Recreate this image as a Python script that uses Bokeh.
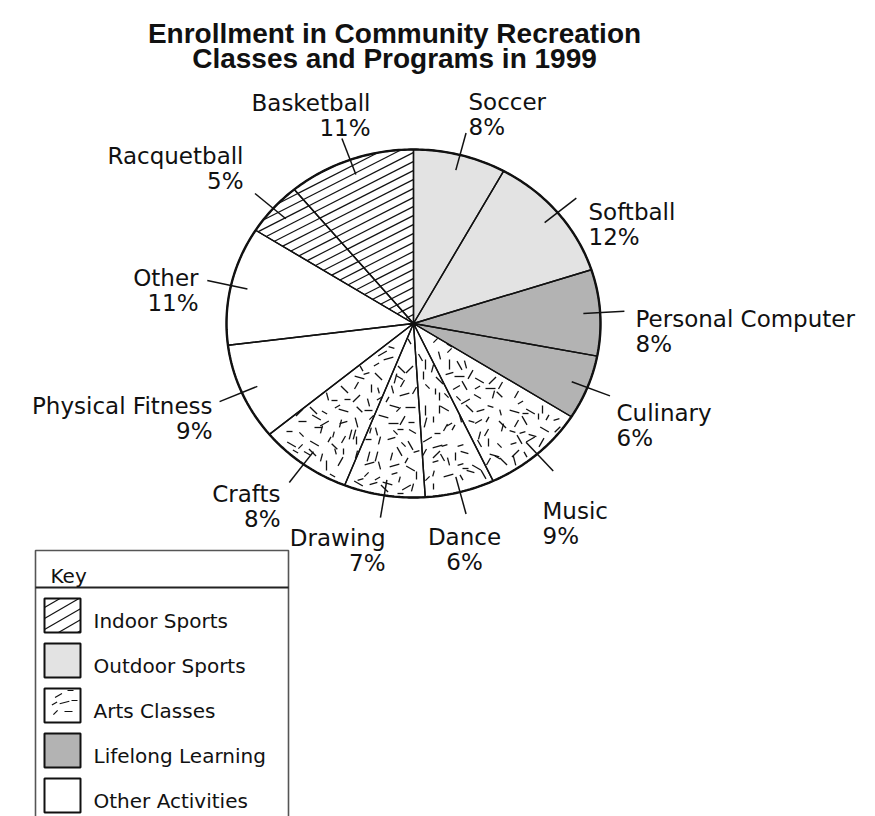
import numpy as np
from bokeh.plotting import figure
from bokeh.models import Range1d
from bokeh.embed import file_html
from bokeh.resources import INLINE
from bokeh.core.properties import value

# ---------------- data ----------------
title_lines = ["Enrollment in Community Recreation", "Classes and Programs in 1999"]
activities = ["Soccer", "Softball", "Personal Computer", "Culinary", "Music", "Dance",
              "Drawing", "Crafts", "Physical Fitness", "Other", "Racquetball", "Basketball"]
percents = [8, 12, 8, 6, 9, 6, 7, 8, 9, 11, 5, 11]
groups = ["Outdoor Sports", "Outdoor Sports", "Lifelong Learning", "Lifelong Learning",
          "Arts Classes", "Arts Classes", "Arts Classes", "Arts Classes",
          "Other Activities", "Other Activities", "Indoor Sports", "Indoor Sports"]
key_title = "Key"
key_groups = ["Indoor Sports", "Outdoor Sports", "Arts Classes", "Lifelong Learning", "Other Activities"]

# ---------------- layout / style ----------------
W, H = 875, 816
CX, CY, RX, RY = 413, 323, 187, 174          # pie centre and radii (page pixels)
FILL = {"Indoor Sports": "white", "Outdoor Sports": "#e3e3e3", "Arts Classes": "white",
        "Lifelong Learning": "#b3b3b3", "Other Activities": "white"}
PATTERN = {"Indoor Sports": "lines", "Arts Classes": "dashes"}
LABEL_FONT = "DejaVu Sans"
LABEL_SIZE = "23px"
LINE_GAP = 25
LABEL_POS = {
    "Soccer": (468, 101, "left"),
    "Softball": (588, 211, "left"),
    "Personal Computer": (635, 318, "left"),
    "Culinary": (616, 412, "left"),
    "Music": (542, 510, "left"),
    "Dance": (464, 536, "center"),
    "Drawing": (385, 537, "right"),
    "Crafts": (280, 493, "right"),
    "Physical Fitness": (212, 405, "right"),
    "Other": (198, 277, "right"),
    "Racquetball": (243, 155, "right"),
    "Basketball": (370, 102, "right"),
}
KEY_BOX = (35, 288, 550, 587)    # left, right, top, divider (page px)
KEY_SW_X = (44, 80)
KEY_SW_TOP0, KEY_PITCH, KEY_SW_H = 598, 45, 34
KEY_TEXT_X = 93


def Y(y):
    return -y


p = figure(width=W, height=H, x_range=Range1d(0, W), y_range=Range1d(-H, 0),
           output_backend="svg", toolbar_location=None, min_border=0,
           x_axis_location=None, y_axis_location=None)
p.grid.visible = False
p.outline_line_color = None
p.background_fill_color = "white"
p.border_fill_color = "white"


def ept(theta, r=1.0):
    return CX + r * RX * np.sin(theta), Y(CY) + r * RY * np.cos(theta)


fracs = np.array(percents, dtype=float) / sum(percents)
edges = np.concatenate([[0.0], np.cumsum(fracs)]) * 2 * np.pi


def sector_inside(a0, a1, rmax=1.0):
    def f(x, y):
        u = (x - CX) / RX
        v = (y - Y(CY)) / RY
        r = np.hypot(u, v)
        th = np.mod(np.arctan2(u, v), 2 * np.pi)
        return (r <= rmax) & (th >= a0) & (th <= a1)
    return f


def rect_inside(l, r, b, t):
    def f(x, y):
        return (x >= l) & (x <= r) & (y >= b) & (y <= t)
    return f


def hatch(inside, xmin, xmax, ymin, ymax, ox, oy, angle_deg=27, spacing=9.0):
    t = np.tan(np.radians(angle_deg))
    x0s, y0s, x1s, y1s = [], [], [], []
    cmin = (ymin - oy) - t * (xmax - ox)
    cmax = (ymax - oy) - t * (xmin - ox)
    k0 = int(np.floor(cmin / spacing)) - 1
    k1 = int(np.ceil(cmax / spacing)) + 1
    xs = np.arange(xmin, xmax + 0.25, 0.25)
    for k in range(k0, k1 + 1):
        c = k * spacing
        ys = oy + c + t * (xs - ox)
        m = inside(xs, ys)
        if m.sum() > 2:
            idx = np.where(m)[0]
            x0s.append(xs[idx[0]]); y0s.append(ys[idx[0]])
            x1s.append(xs[idx[-1]]); y1s.append(ys[idx[-1]])
    return x0s, y0s, x1s, y1s


def dashes(inside, xmin, xmax, ymin, ymax, spacing=11.0, seed=0):
    x0s, y0s, x1s, y1s = [], [], [], []
    ni = int((xmax - xmin) / spacing) + 2
    nj = int((ymax - ymin) / spacing) + 2
    for i in range(ni):
        for j in range(nj):
            h = ((i * 92821 + seed * 131) ^ (j * 68917 + seed * 7)) * 2654435761 % 4294967296
            jx = (h % 9) - 4
            jy = ((h >> 4) % 9) - 4
            ang = np.radians(((h >> 8) % 12) * 15)
            ln = 3.0 + ((h >> 12) % 3)
            cx = xmin + i * spacing + jx
            cy = ymin + j * spacing + jy
            ax, ay = cx - ln * np.cos(ang), cy - ln * np.sin(ang)
            bx, by = cx + ln * np.cos(ang), cy + ln * np.sin(ang)
            if inside(np.array([ax, bx]), np.array([ay, by])).all():
                x0s.append(ax); y0s.append(ay); x1s.append(bx); y1s.append(by)
    return x0s, y0s, x1s, y1s


# ---------------- pie slices ----------------
slice_xs, slice_ys, slice_fill = [], [], []
for i, g in enumerate(groups):
    th = np.linspace(edges[i], edges[i + 1], 80)
    ax, ay = ept(th)
    slice_xs.append(np.concatenate([[CX], ax, [CX]]))
    slice_ys.append(np.concatenate([[Y(CY)], ay, [Y(CY)]]))
    slice_fill.append(FILL[g])

p.patches(xs=slice_xs, ys=slice_ys, fill_color=slice_fill, line_color=None)

bx0, bx1, by0, by1 = CX - RX, CX + RX, Y(CY) - RY, Y(CY) + RY
hx0, hy0, hx1, hy1 = [], [], [], []
dx0, dy0, dx1, dy1 = [], [], [], []
for i, g in enumerate(groups):
    pat = PATTERN.get(g)
    if pat == "lines":
        s = hatch(sector_inside(edges[i], edges[i + 1]), bx0, bx1, by0, by1, CX, Y(CY))
        hx0 += s[0]; hy0 += s[1]; hx1 += s[2]; hy1 += s[3]
    elif pat == "dashes":
        s = dashes(sector_inside(edges[i] + 0.0, edges[i + 1], 0.985), bx0, bx1, by0, by1, 11.0, 0)
        dx0 += s[0]; dy0 += s[1]; dx1 += s[2]; dy1 += s[3]

p.segment(x0=hx0, y0=hy0, x1=hx1, y1=hy1, line_color="#111111", line_width=1.2)
p.segment(x0=dx0, y0=dy0, x1=dx1, y1=dy1, line_color="#111111", line_width=1.3)

# slice edges
p.patches(xs=slice_xs, ys=slice_ys, fill_color=None, line_color="#111111", line_width=1.4)
th_all = np.linspace(0, 2 * np.pi, 400)
ox, oy = ept(th_all)
p.line(x=ox, y=oy, line_color="#111111", line_width=2.4)

# leader lines
mids = (edges[:-1] + edges[1:]) / 2
lx0, ly0 = ept(mids, 0.91)
lx1, ly1 = ept(mids, 1.13)
p.segment(x0=lx0, y0=ly0, x1=lx1, y1=ly1, line_color="#111111", line_width=1.5)

# labels
for align in ["left", "right", "center"]:
    tx, ty, tt = [], [], []
    for name, pct in zip(activities, percents):
        x, y, a = LABEL_POS[name]
        if a != align:
            continue
        tx += [x, x]
        ty += [Y(y), Y(y + LINE_GAP)]
        tt += [name, f"{pct}%"]
    if tx:
        p.text(x=tx, y=ty, text=tt, text_font=value(LABEL_FONT), text_font_size=LABEL_SIZE,
               text_align=align, text_baseline="alphabetic", text_color="#111111")

# title
p.text(x=[394, 394], y=[Y(33), Y(58)], text=title_lines, text_font=value("Liberation Sans"),
       text_font_size="28px", text_font_style="bold", text_align="center",
       text_baseline="alphabetic", text_color="#111111")

# ---------------- key ----------------
kl, kr, kt, kd = KEY_BOX
bottom = H + 5
p.line(x=[kl, kl, kr, kr], y=[Y(bottom), Y(kt), Y(kt), Y(bottom)], line_color="#555555", line_width=1.6)
p.line(x=[kl, kr], y=[Y(kd), Y(kd)], line_color="#222222", line_width=2)
p.text(x=[KEY_SW_X[0] + 6], y=[Y(575)], text=[key_title], text_font=value(LABEL_FONT),
       text_font_size="20px", text_baseline="alphabetic", text_color="#111111")

sw_top = [KEY_SW_TOP0 + k * KEY_PITCH for k in range(len(key_groups))]
p.quad(left=[KEY_SW_X[0]] * len(key_groups), right=[KEY_SW_X[1]] * len(key_groups),
       top=[Y(t) for t in sw_top], bottom=[Y(t + KEY_SW_H) for t in sw_top],
       fill_color=[FILL[g] for g in key_groups], line_color=None)
for g, t in zip(key_groups, sw_top):
    pat = PATTERN.get(g)
    l, r, tp, bt = KEY_SW_X[0], KEY_SW_X[1], Y(t), Y(t + KEY_SW_H)
    if pat == "lines":
        s = hatch(rect_inside(l, r, bt, tp), l, r, bt, tp, l, bt + 3, 30, 11.0)
        p.segment(x0=s[0], y0=s[1], x1=s[2], y1=s[3], line_color="#111111", line_width=1.2)
    elif pat == "dashes":
        s = dashes(rect_inside(l + 2, r - 2, bt + 2, tp - 2), l, r, bt, tp, 10.0, 3)
        p.segment(x0=s[0], y0=s[1], x1=s[2], y1=s[3], line_color="#111111", line_width=1.2)
p.quad(left=[KEY_SW_X[0]] * len(key_groups), right=[KEY_SW_X[1]] * len(key_groups),
       top=[Y(t) for t in sw_top], bottom=[Y(t + KEY_SW_H) for t in sw_top],
       fill_color=None, line_color="#111111", line_width=2)
p.text(x=[KEY_TEXT_X] * len(key_groups), y=[Y(t + 22) for t in sw_top], text=key_groups,
       text_font=value(LABEL_FONT), text_font_size="20px", text_baseline="alphabetic",
       text_color="#111111")

open("out.html", "w").write(file_html(p, INLINE))
